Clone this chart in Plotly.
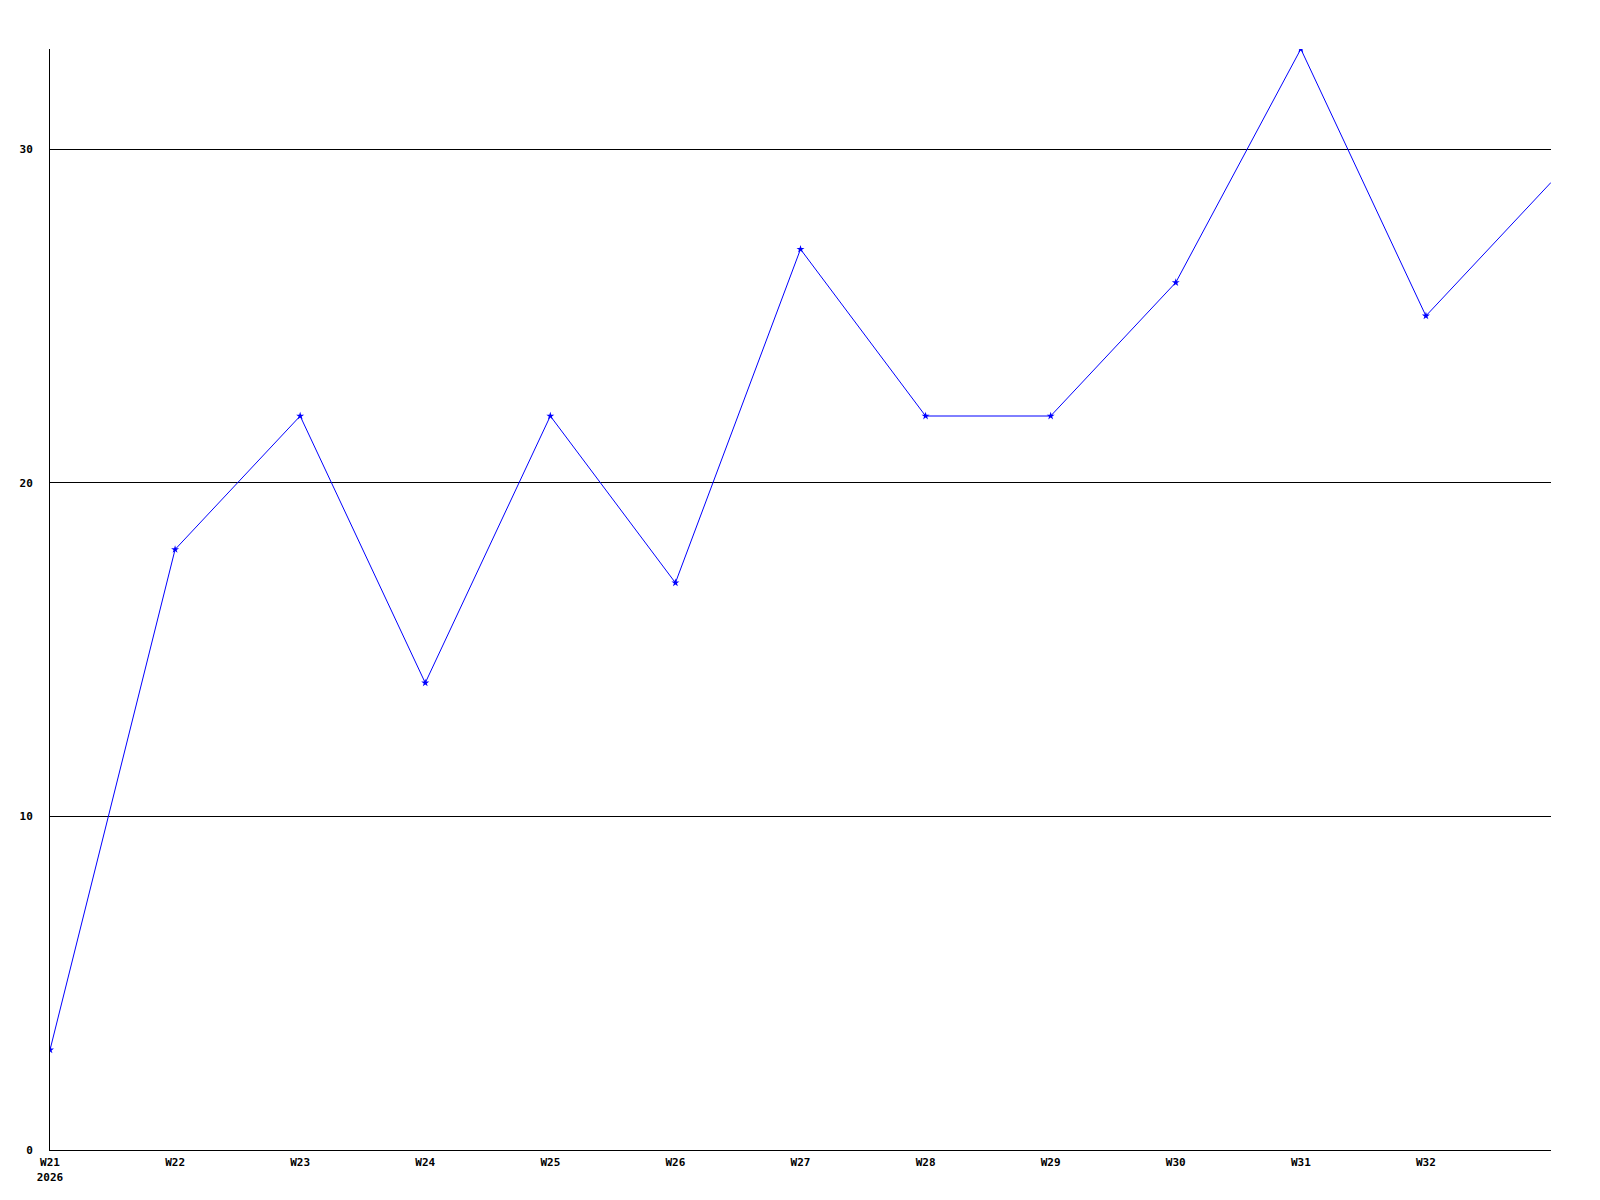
import plotly.graph_objects as go

weeks = ["W21", "W22", "W23", "W24", "W25", "W26", "W27", "W28", "W29", "W30", "W31", "W32", "W33"]
week_labels = ["W21<br>2026", "W22", "W23", "W24", "W25", "W26", "W27", "W28", "W29", "W30", "W31", "W32", ""]
values = [3, 18, 22, 14, 22, 17, 27, 22, 22, 26, 33, 25, 29]
y_ticks = [0, 10, 20, 30]

x_pos = list(range(len(weeks)))

fig = go.Figure()
# line continues to the next (off-chart) week
fig.add_trace(go.Scatter(
    x=x_pos, y=values, mode="lines",
    line=dict(color="#0000ff", width=1),
    showlegend=False, hoverinfo="skip",
))
# markers for the visible weeks
fig.add_trace(go.Scatter(
    x=x_pos[:-1], y=values[:-1], mode="markers",
    marker=dict(symbol="star", size=6, color="#0000ff"),
    showlegend=False, hoverinfo="x+y",
))

tick_font = dict(family="DejaVu Sans Mono", size=11, color="black", weight="bold")

fig.update_layout(
    width=1592, height=1192,
    margin=dict(l=42, r=49, t=41, b=50),
    paper_bgcolor="white", plot_bgcolor="white",
    xaxis=dict(
        range=[0, 12], tickmode="array", tickvals=x_pos[:-1], ticktext=week_labels[:-1],
        showgrid=False, zeroline=False, showline=True, linecolor="black", linewidth=1,
        ticks="", tickfont=tick_font, ticklabelstandoff=2,
    ),
    yaxis=dict(
        range=[0, 33], tickmode="array", tickvals=y_ticks, ticktext=[str(v) for v in y_ticks],
        showgrid=True, gridcolor="black", gridwidth=1, zeroline=False,
        showline=True, linecolor="black", linewidth=1,
        ticks="", tickfont=tick_font, ticklabelstandoff=14,
    ),
)

fig.write_html("out.html")
